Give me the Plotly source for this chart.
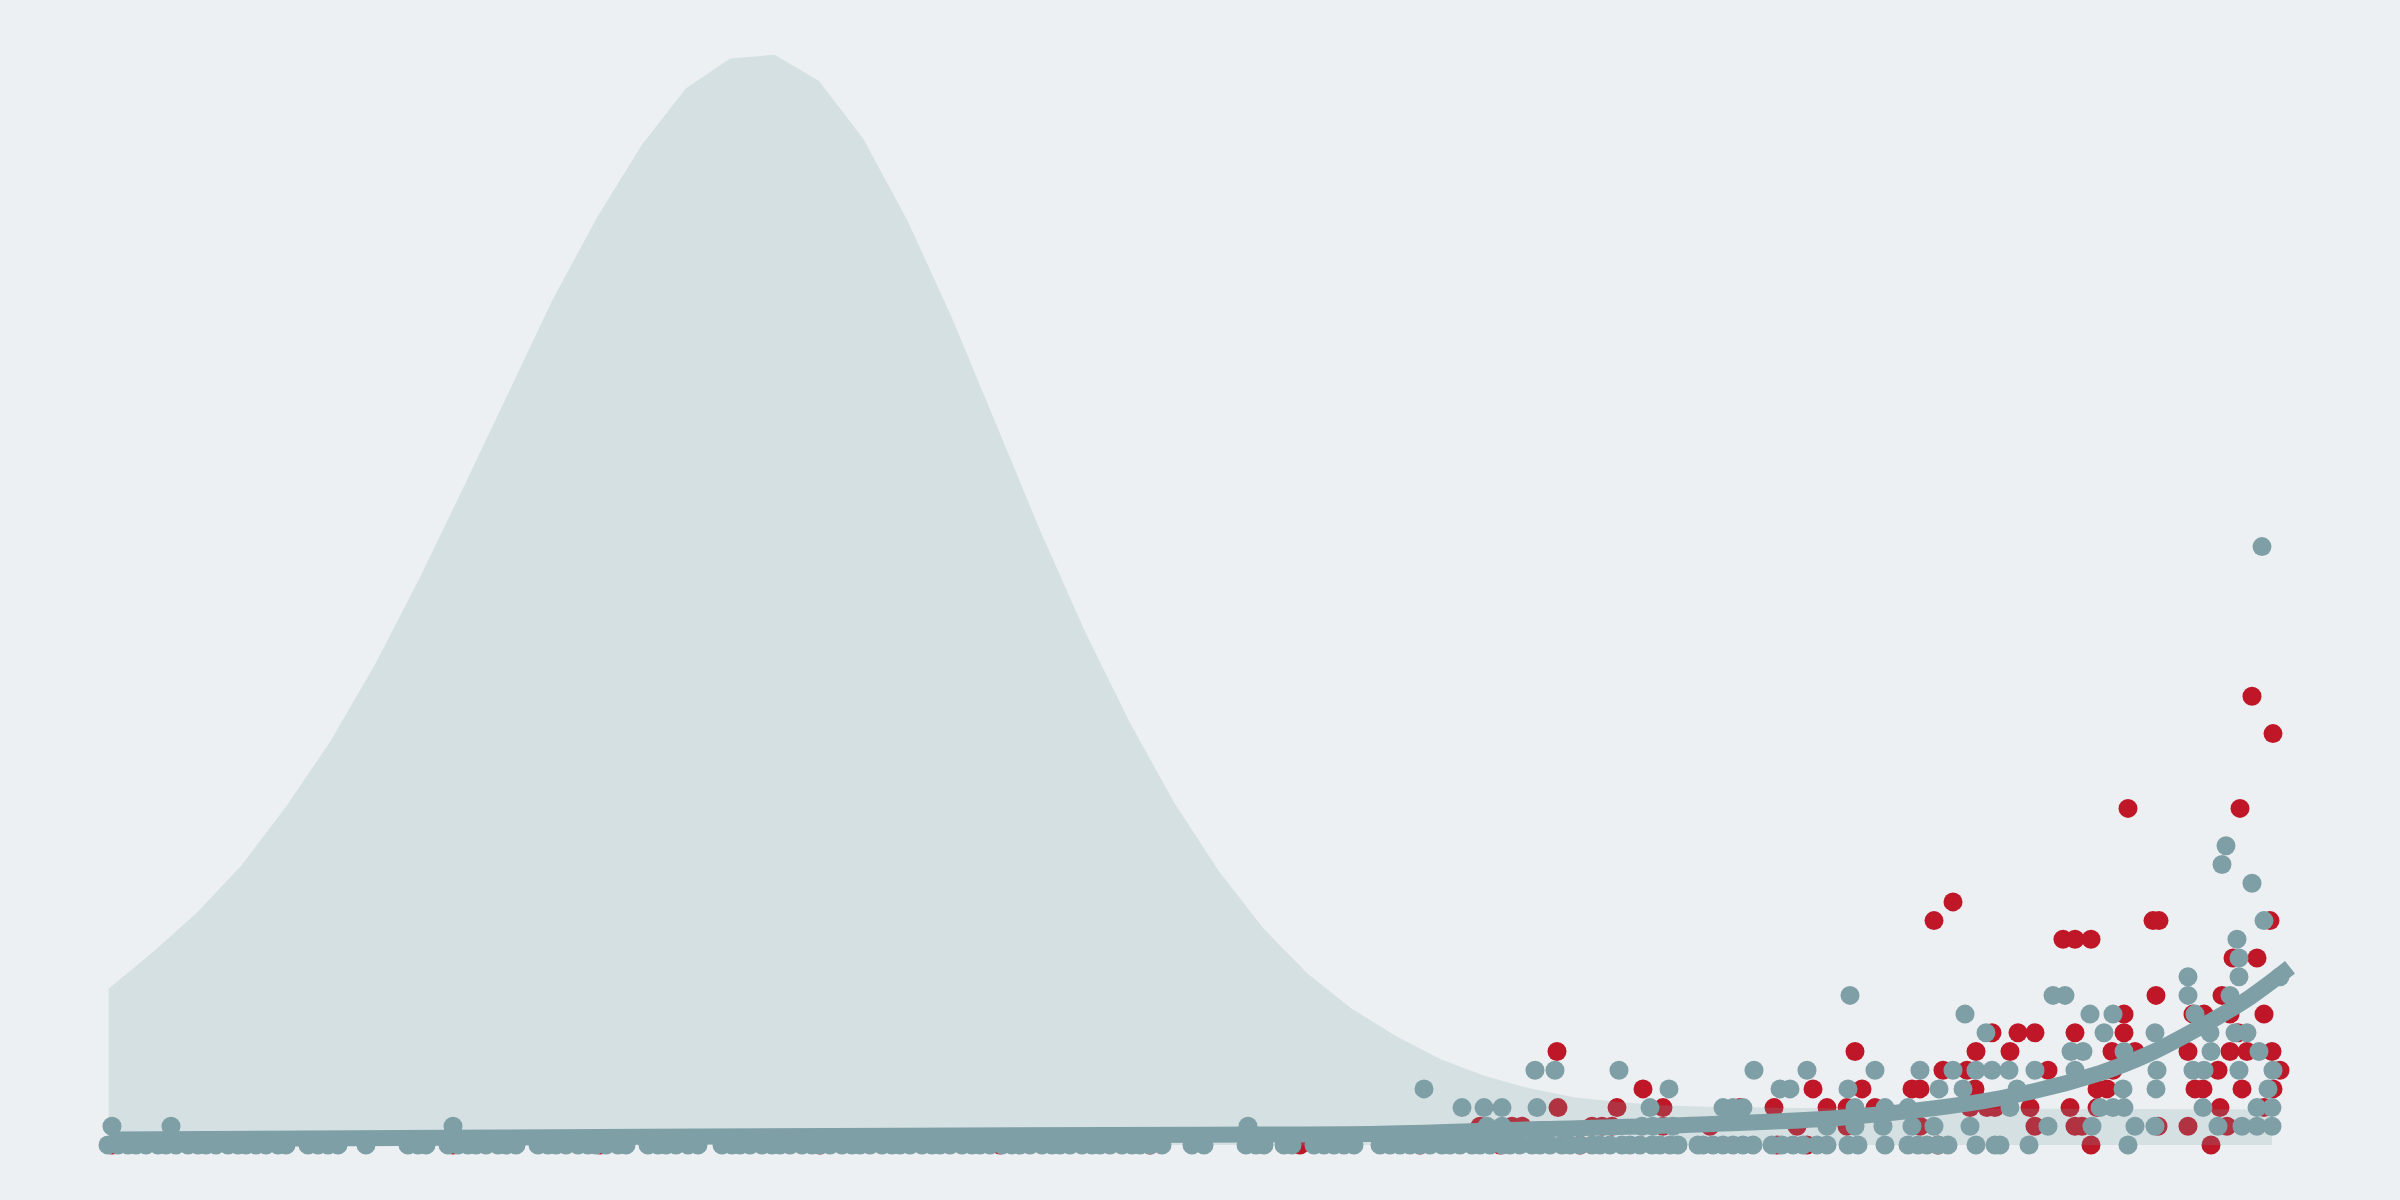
import plotly.graph_objects as go

# ---------------- data ----------------
# density curve (background area)
density_x = [0.43, 2.65, 4.87, 7.09, 9.31, 11.53, 13.75, 15.97, 18.19, 20.41,
             22.63, 24.85, 27.07, 29.29, 31.51, 33.73, 35.95, 38.17, 40.39, 42.61,
             44.83, 47.05, 49.27, 51.49, 53.71, 55.93, 58.15, 60.37, 62.59, 64.81,
             67.03, 69.25, 71.47, 73.69, 75.91, 78.13, 80.35, 82.57, 84.79, 87.01,
             89.23, 91.45, 93.67, 95.89, 98.11, 100.33, 102.55, 104.77, 106.99, 108.6]
density_y = [8.35, 10.32, 12.45, 14.98, 18.1, 21.6, 25.7, 30.3, 35.2, 40.2,
             45.2, 49.6, 53.45, 56.5, 58.1, 58.3, 56.9, 53.8, 49.4, 44.2,
             38.5, 32.75, 27.4, 22.6, 18.3, 14.66, 11.6, 9.17, 7.29, 5.82,
             4.59, 3.69, 3.03, 2.55, 2.3, 2.13, 2.05, 2.0, 1.98, 1.96,
             1.95, 1.94, 1.93, 1.92, 1.92, 1.91, 1.91, 1.9, 1.9, 1.9]

# grey series: points on the zero level
grey_zero_x = [0.4, 0.9, 1.4, 1.8, 2.3, 2.9, 3.3, 3.8, 4.4, 4.9, 5.3, 5.8, 6.4, 6.9, 7.3,
               7.8, 8.3, 8.9, 9.3, 10.4, 10.9, 11.4, 11.9, 13.3, 15.4, 15.9, 16.3, 17.4,
               17.9, 18.4, 18.8, 19.3, 19.9, 20.3, 20.8, 21.9, 22.4, 22.8, 23.3, 23.9, 24.4,
               24.8, 25.3, 25.9, 26.3, 27.4, 27.9, 28.3, 28.8, 29.4, 29.9, 31.1, 31.6, 32.0,
               32.5, 33.1, 33.6, 34.0, 34.5, 35.1, 35.6, 36.0, 36.5, 37.1, 37.6, 38.0, 38.5,
               39.1, 39.6, 40.0, 40.5, 41.1, 41.6, 42.0, 42.5, 43.1, 43.6, 44.0, 44.5, 45.1,
               45.6, 46.0, 46.5, 47.1, 47.6, 48.0, 48.5, 49.1, 49.6, 50.0, 50.5, 51.1, 51.6,
               52.0, 52.5, 53.1, 54.6, 55.2, 57.3, 57.8, 58.2, 59.2, 59.6, 60.7, 61.2, 61.7,
               62.2, 62.7, 64.0, 64.5, 65.0, 65.5, 66.0, 66.5, 67.1, 67.5, 68.0, 68.6, 69.0,
               69.5, 70.1, 70.5, 71.0, 71.6, 72.0, 72.5, 73.1, 73.5, 74.0, 74.6, 75.0, 75.5,
               76.1, 76.5, 77.0, 77.6, 78.0, 78.5, 78.9, 79.9, 80.15, 80.65, 81.15, 81.65,
               82.15, 82.65, 83.6, 84.1, 84.65, 85.15, 85.85, 86.35, 87.4, 87.9, 89.25, 90.4,
               90.9, 91.35, 91.9, 92.4, 93.8, 94.75, 95.0, 96.45, 101.4]

# grey series: points above zero
grey_x = [0.6, 3.55, 17.65, 57.4,
          66.2, 68.1, 69.2, 70.1, 69.35, 70.1, 71.75, 72.75, 71.85, 75.95, 78.45, 77.5, 77.1, 77.65, 78.65,
          87.5, 93.25, 94.3, 82.7, 85.35, 88.75, 91.0, 92.65, 93.8, 94.6, 95.45, 84.0, 84.5, 87.4, 91.95,
          93.15, 81.15, 81.65, 82.15, 87.75, 89.25, 90.4, 95.5, 86.35, 87.75, 89.15, 90.6, 91.7, 93.5,
          108.1, 106.3, 106.1, 107.6, 108.2, 106.85, 106.95, 104.4, 106.95, 109.0, 97.65, 98.25, 104.4,
          106.5, 99.5, 100.65, 104.75, 100.2, 102.75, 105.5, 106.75, 107.35, 98.55, 99.15, 101.2, 105.55,
          107.95, 96.75, 98.75, 102.85, 104.65, 105.2, 106.95, 108.65, 95.85, 101.15, 102.8, 108.4, 100.0,
          100.65, 101.2, 105.15, 107.85, 108.6, 97.4, 99.6, 101.75, 102.75, 105.9, 107.1, 107.85, 108.6]
grey_y = [1, 1, 1, 1,
          3, 2, 2, 2, 1, 1, 4, 4, 2, 4, 3, 2, 1, 1, 1,
          8, 7, 6, 4, 4, 4, 4, 4, 4, 4, 4, 3, 3, 3, 3,
          3, 2, 2, 2, 2, 2, 2, 2, 1, 1, 1, 1, 1, 1,
          32, 16, 15, 14, 12, 11, 10, 9, 9, 9, 8, 8, 8,
          8, 7, 7, 7, 6, 6, 6, 6, 6, 5, 5, 5, 5,
          5, 4, 4, 4, 4, 4, 4, 4, 3, 3, 3, 3, 2,
          2, 2, 2, 2, 2, 1, 1, 1, 1, 1, 1, 1, 1]

# red series: points on the zero level
red_zero_x = [0.6, 17.65, 25.0, 36.0, 45.0, 52.5, 60.0, 66.0, 70.0, 74.0,
              83.85, 85.35, 91.9, 99.55, 105.55]

# red series: points above zero
red_x = [69.0, 70.6, 71.1, 72.85, 72.9, 74.6, 75.1, 75.6, 75.85, 77.15, 78.15, 78.15, 80.5,
         94.6, 87.75, 93.8, 95.5, 92.15, 93.35, 85.65, 88.1, 90.6, 91.0, 93.75, 82.0, 83.7, 86.35,
         87.35, 88.75, 93.5, 94.35, 94.75, 84.85, 87.35, 91.0,
         107.6, 108.65, 101.4, 107.0, 92.65, 91.7, 102.65, 102.95, 108.5, 98.15, 98.75, 99.55,
         106.65, 107.85, 102.8, 106.1, 101.2, 104.65, 105.2, 106.5, 108.2, 95.9, 96.75, 98.75,
         101.2, 106.9, 100.6, 101.75, 104.4, 106.5, 107.35, 108.6, 97.4, 100.65, 105.9, 109.0,
         99.85, 100.35, 104.75, 105.15, 107.1, 108.65, 96.5, 98.5, 99.85, 106.0, 108.2, 96.75,
         98.75, 99.1, 102.9, 104.4, 106.35]
red_y = [1, 1, 1, 5, 2, 1, 1, 1, 2, 3, 2, 1, 1,
         6, 5, 5, 5, 4, 4, 3, 3, 3, 3, 3, 2, 2, 2,
         2, 2, 2, 2, 2, 1, 1, 1,
         24, 22, 18, 18, 13, 12, 12, 12, 12, 11, 11, 11,
         10, 10, 8, 8, 7, 7, 7, 7, 7, 6, 6, 6,
         6, 6, 5, 5, 5, 5, 5, 5, 4, 4, 4, 4,
         3, 3, 3, 3, 3, 3, 2, 2, 2, 2, 2, 1,
         1, 1, 1, 1, 1]

# trend line
trend_x = [0.45, 20, 40, 55, 64, 72, 80, 87.5, 95, 100, 102.5, 105, 107.5, 109.5]
trend_y = [0.3, 0.4, 0.5, 0.55, 0.6, 0.85, 1.1, 1.5, 2.5, 3.85, 4.9, 6.3, 7.9, 9.5]

# ---------------- styles ----------------
BG = "#ECF0F3"
GREY = "#7E9FA6"
RED = "#BF1727"
MS = 19

fig = go.Figure()
fig.add_trace(go.Scatter(x=red_zero_x + red_x, y=[0] * len(red_zero_x) + red_y,
                         mode="markers", marker=dict(size=MS, color=RED),
                         hoverinfo="skip"))
fig.add_trace(go.Scatter(x=grey_zero_x + grey_x, y=[0] * len(grey_zero_x) + grey_y,
                         mode="markers", marker=dict(size=MS, color=GREY),
                         hoverinfo="skip"))
fig.add_trace(go.Scatter(x=density_x, y=density_y, mode="lines", fill="tozeroy",
                         line=dict(width=0, color="rgba(0,0,0,0)"),
                         fillcolor="rgba(126,159,166,0.2)", hoverinfo="skip"))
fig.add_trace(go.Scatter(x=trend_x, y=trend_y, mode="lines",
                         line=dict(color=GREY, width=16, shape="spline"),
                         hoverinfo="skip"))

fig.update_layout(
    width=2400, height=1200,
    margin=dict(l=0, r=0, t=0, b=0),
    paper_bgcolor=BG, plot_bgcolor=BG,
    showlegend=False,
    hovermode=False,
    xaxis=dict(visible=False, range=[-5, 115]),
    yaxis=dict(visible=False, range=[-2.941, 61.23]),
)

fig.write_html("out.html",
               config={"displayModeBar": False, "staticPlot": True},
               post_script="document.body.style.margin='0';"
                           "document.body.style.background='" + BG + "';")
